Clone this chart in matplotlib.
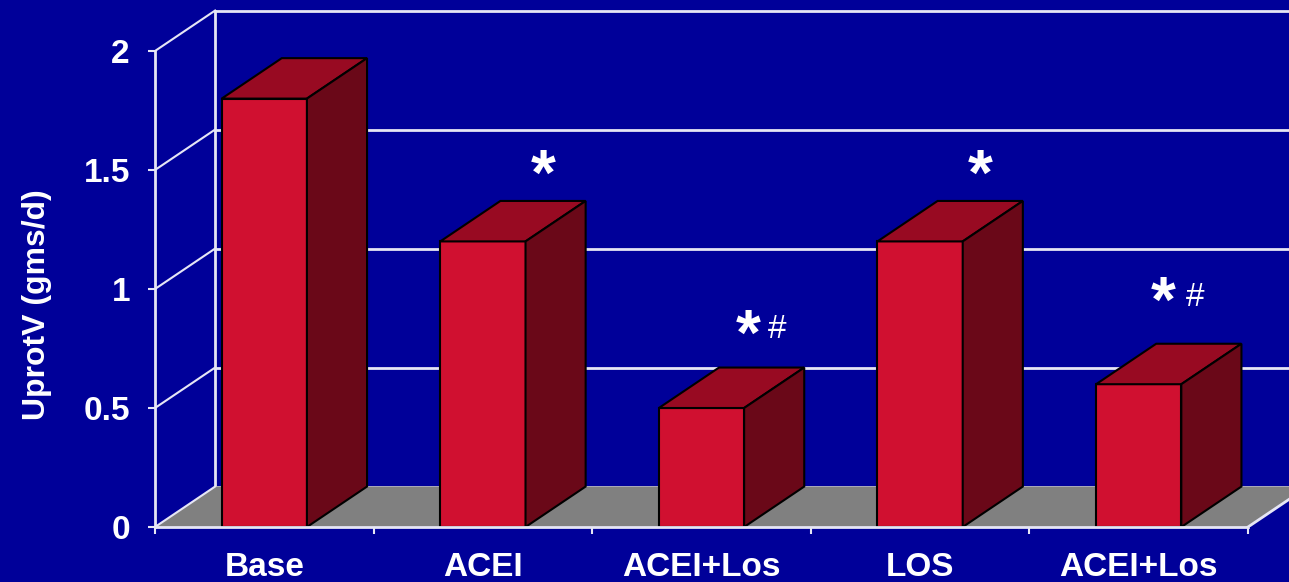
import matplotlib.pyplot as plt
from matplotlib.patches import Polygon, Rectangle

# data
categories = ['Base', 'ACEI', 'ACEI+Los', 'LOS', 'ACEI+Los']
uprotv = [1.8, 1.2, 0.5, 1.2, 0.6]
yticks = [0, 0.5, 1, 1.5, 2]

# significance marks (x, y in data units of the chart)
star_x = [1.775, 2.713, 3.774, 4.611]
star_y = [1.55, 0.88, 1.55, 1.02]
hash_x = [2.845, 4.757]
hash_y = [0.85, 0.985]

BG = '#000099'
GRID = '#E6E6F5'
FRONT = '#D01030'
TOP = '#980A22'
SIDE = '#6A0818'
FLOOR = '#808080'

DX, DY = 0.275, 0.17   # 3d depth offset
W = 0.39               # bar front width

plt.rcParams['font.family'] = ['Liberation Sans', 'DejaVu Sans']

fig = plt.figure(figsize=(12.89, 5.82), dpi=100, facecolor=BG)
ax = fig.add_axes([155 / 1289, 55 / 582, 1134 / 1289, 527 / 582])
ax.set_facecolor(BG)
xmax = 1134 / 218.6
ax.set_xlim(0, xmax)
ax.set_ylim(0, 527 / 238)

# back wall + side wall lines
for v in yticks:
    ax.plot([DX, xmax + 1], [v + DY, v + DY], color=GRID, lw=2, zorder=1)
    ax.plot([0, DX], [v, v + DY], color=GRID, lw=1.5, zorder=4)
ax.plot([DX, DX], [DY, yticks[-1] + DY], color=GRID, lw=2, zorder=1)

# floor
n = len(categories)
ax.add_patch(Polygon([(0, 0), (n, 0), (n + DX, DY), (DX, DY)],
                     closed=True, fc=FLOOR, ec='none', zorder=2))
ax.plot([n, n + DX], [0, DY], color=GRID, lw=2, zorder=4)

# bars
for i, v in enumerate(uprotv):
    c = i + 0.5
    x0, x1 = c - W / 2, c + W / 2
    ax.add_patch(Rectangle((x0, 0), W, v, fc=FRONT, ec='black', lw=1.5, zorder=3))
    ax.add_patch(Polygon([(x0, v), (x1, v), (x1 + DX, v + DY), (x0 + DX, v + DY)],
                         closed=True, fc=TOP, ec='black', lw=1.5, zorder=3))
    ax.add_patch(Polygon([(x1, 0), (x1 + DX, DY), (x1 + DX, v + DY), (x1, v)],
                         closed=True, fc=SIDE, ec='black', lw=1.5, zorder=3))

for x, y in zip(star_x, star_y):
    ax.text(x, y - 0.156, '*', fontsize=46, fontweight='bold', color='white',
            ha='center', va='baseline', zorder=5)
for x, y in zip(hash_x, hash_y):
    ax.text(x, y - 0.055, '#', fontsize=24, color='white',
            ha='center', va='baseline', zorder=5)

# axes, ticks
for s in ['top', 'right']:
    ax.spines[s].set_visible(False)
ax.spines['left'].set_color(GRID)
ax.spines['left'].set_linewidth(2)
ax.spines['left'].set_bounds(0, 2)
ax.spines['bottom'].set_color(GRID)
ax.spines['bottom'].set_linewidth(2)
ax.spines['bottom'].set_bounds(0, n)
ax.spines['left'].set_zorder(6)
ax.spines['bottom'].set_zorder(6)

ax.set_yticks(yticks)
ax.set_yticklabels(['0', '0.5', '1', '1.5', '2'])
ax.tick_params(axis='y', colors=GRID, length=5, width=1.5, pad=13,
               labelsize=24, labelcolor='white')
for t in ax.get_yticklabels():
    t.set_fontweight('bold')

ax.set_xticks(range(n + 1))
ax.set_xticklabels([])
ax.set_xticks([i + 0.5 for i in range(n)], minor=True)
ax.set_xticklabels(categories, minor=True, fontsize=24, fontweight='bold', color='white')
ax.tick_params(axis='x', which='major', colors=GRID, length=5, width=1.5)
ax.tick_params(axis='x', which='minor', length=0, pad=18)

fig.text(37 / 1289, 1 - 305 / 582, 'UprotV (gms/d)', rotation=90, fontsize=23,
         fontweight='bold', color='white', ha='center', va='center')

fig.savefig('out.png', dpi=100, facecolor=BG)
